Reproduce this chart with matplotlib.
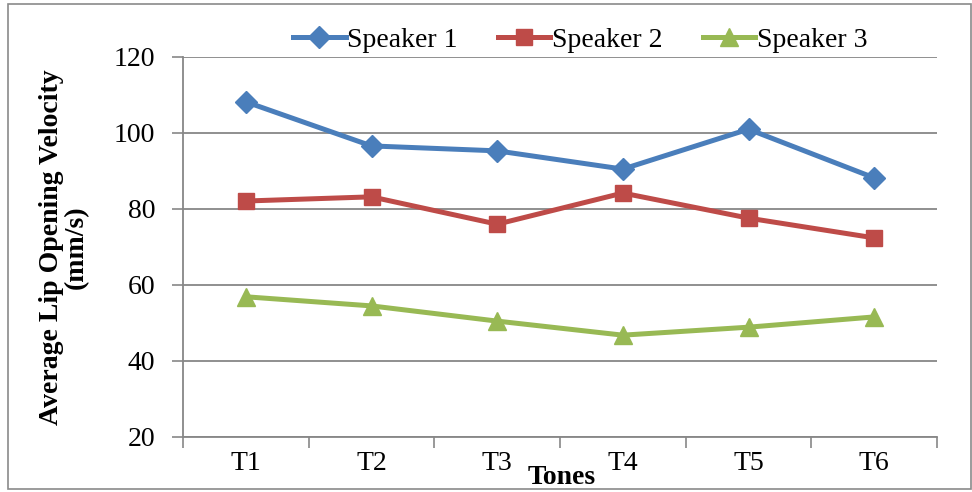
import matplotlib
matplotlib.use("Agg")
import matplotlib.pyplot as plt
from matplotlib.patches import Rectangle

tones = ["T1", "T2", "T3", "T4", "T5", "T6"]
speaker1 = [108.2, 96.6, 95.3, 90.5, 101.0, 88.2]
speaker2 = [82.1, 83.2, 76.0, 84.2, 77.6, 72.4]
speaker3 = [56.9, 54.5, 50.5, 46.8, 48.9, 51.6]
yticks = [20, 40, 60, 80, 100, 120]

plt.rcParams["font.family"] = ["Liberation Serif", "DejaVu Serif"]

fig = plt.figure(figsize=(9.72, 4.92), dpi=100)
ax = fig.add_axes([183 / 972, 1 - 437 / 492, (937 - 183) / 972, (437 - 57) / 492])

x = list(range(len(tones)))
ax.plot(x, speaker1, color="#4A7EBB", lw=3.6, marker="D", ms=11, label="Speaker 1")
ax.plot(x, speaker2, color="#BE4B48", lw=3.6, marker="s", ms=12, label="Speaker 2")
ax.plot(x, speaker3, color="#98B954", lw=3.6, marker="^", ms=13, label="Speaker 3")

ax.set_xlim(-0.5, len(tones) - 0.5)
ax.set_ylim(20, 120)
ax.set_yticks(yticks)
ax.yaxis.grid(True, color="#878787", lw=1.3)
ax.set_axisbelow(True)

ax.set_xticks([i - 0.5 for i in range(len(tones) + 1)])
ax.set_xticklabels([])
ax.set_xticks(x, minor=True)
ax.set_xticklabels(tones, minor=True)
ax.tick_params(axis="x", which="minor", length=0, pad=10, labelsize=20)
ax.tick_params(axis="x", which="major", length=8, color="#878787", width=1.2, direction="out")
ax.tick_params(axis="y", length=8, color="#878787", width=1.2, labelsize=20, pad=12)

for s in ["top", "right"]:
    ax.spines[s].set_visible(False)
for s in ["left", "bottom"]:
    ax.spines[s].set_color("#878787")
    ax.spines[s].set_linewidth(1.3)

fig.text(64 / 972, 1 - 247 / 492, "Average Lip Opening Velocity\n(mm/s)", ha="center",
         va="center", rotation=90, fontsize=20, fontweight="bold", linespacing=0.95)
fig.text(562 / 972, 1 - 478 / 492, "Tones", ha="center", va="center",
         fontsize=20, fontweight="bold")

leg = fig.legend(loc="center", bbox_to_anchor=(580 / 972, 1 - 40 / 492), ncol=3,
                 frameon=False, fontsize=20, handlelength=1.9, columnspacing=1.45,
                 handletextpad=0.05, borderaxespad=0)

fig.patches.append(Rectangle((8 / 972, 3 / 492), 1 - 9 / 972, 1 - 7 / 492,
                             transform=fig.transFigure, fill=False,
                             edgecolor="#8a8a8a", lw=1.2))

fig.savefig("out.png", dpi=100)
